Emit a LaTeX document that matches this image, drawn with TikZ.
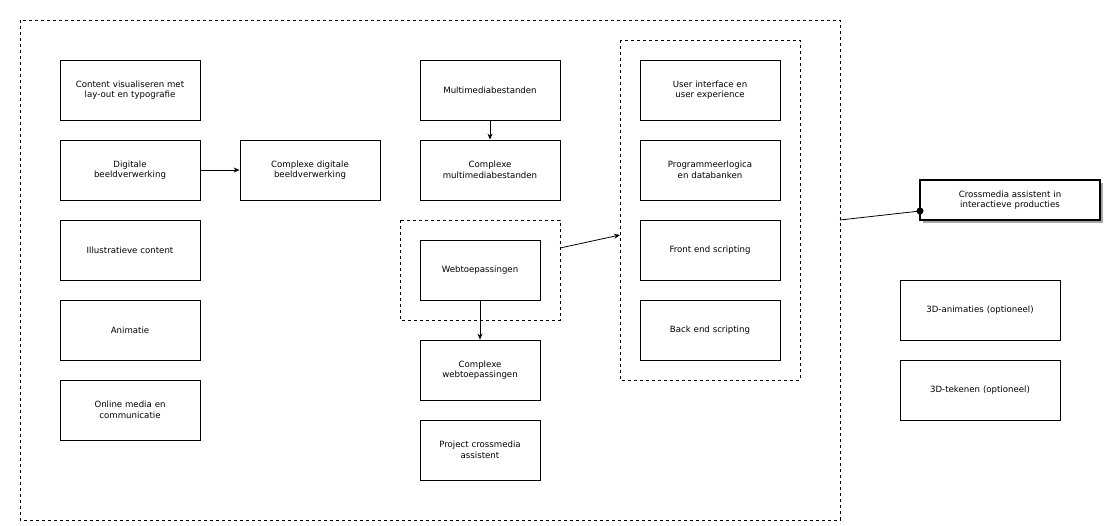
\documentclass[tikz,border=0pt]{standalone}
\usepackage{fontspec}
\setmainfont{DejaVu Sans}
\usetikzlibrary{arrows.meta}
\begin{document}
\begin{tikzpicture}[x=1pt,y=-1pt,
  bx/.style={draw,thick,fill=white,align=center,font=\fontsize{8.6}{10.5}\selectfont,inner sep=2pt},
  dbox/.style={draw,dashed},
  arr/.style={-{Stealth[length=6pt,width=5pt]},thick}]
\useasboundingbox (0,0) rectangle (1108,525);
\draw[dbox] (20,20) rectangle (840,520);
\draw[dbox] (400,220) rectangle (560,320);
\draw[dbox] (620,40) rectangle (800,380);
\newcommand{\bb}[6]{\node[bx,minimum width=#3,minimum height=#4,text width=#3-8] (#1) at (#2) {#5};}
\bb{a1}{130,90}{140pt}{60pt}{Content visualiseren met lay-out en typografie}{}
\bb{a2}{130,170}{140pt}{60pt}{Digitale\\beeldverwerking}{}
\bb{a3}{130,250}{140pt}{60pt}{Illustratieve content}{}
\bb{a4}{130,330}{140pt}{60pt}{Animatie}{}
\bb{a5}{130,410}{140pt}{60pt}{Online media en\\communicatie}{}
\bb{b1}{310,170}{140pt}{60pt}{Complexe digitale\\beeldverwerking}{}
\bb{c1}{490,90}{140pt}{60pt}{Multimediabestanden}{}
\bb{c2}{490,170}{140pt}{60pt}{Complexe\\multimediabestanden}{}
\bb{c3}{480,270}{120pt}{60pt}{Webtoepassingen}{}
\bb{c4}{480,370}{120pt}{60pt}{Complexe\\webtoepassingen}{}
\bb{c5}{480,450}{120pt}{60pt}{Project crossmedia\\assistent}{}
\bb{d1}{710,90}{140pt}{60pt}{User interface en user experience}{}
\bb{d2}{710,170}{140pt}{60pt}{Programmeerlogica en databanken}{}
\bb{d3}{710,250}{140pt}{60pt}{Front end scripting}{}
\bb{d4}{710,330}{140pt}{60pt}{Back end scripting}{}
\fill[gray!70] (923,183) rectangle (1103,223);
\node[bx,line width=1.4pt,minimum width=180pt,minimum height=40pt,text width=172pt] (e1) at (1010,200) {Crossmedia assistent in\\interactieve producties};
\bb{f1}{980,310}{160pt}{60pt}{3D-animaties (optioneel)}{}
\bb{f2}{980,390}{160pt}{60pt}{3D-tekenen (optioneel)}{}
\coordinate (p1) at (560,248);
\coordinate (p2) at (620,235);
\coordinate (q1) at (840,220);
\coordinate (q2) at (920,211);
\draw[arr] (a2) -- (b1);
\draw[arr] (c1) -- (c2);
\draw[arr] (c3.south) -- (c4.north);
\draw[arr] (p1) -- (p2);
\draw[thick] (q1) -- (q2);
\fill (q2) circle (3.5pt);
\end{tikzpicture}
\end{document}
